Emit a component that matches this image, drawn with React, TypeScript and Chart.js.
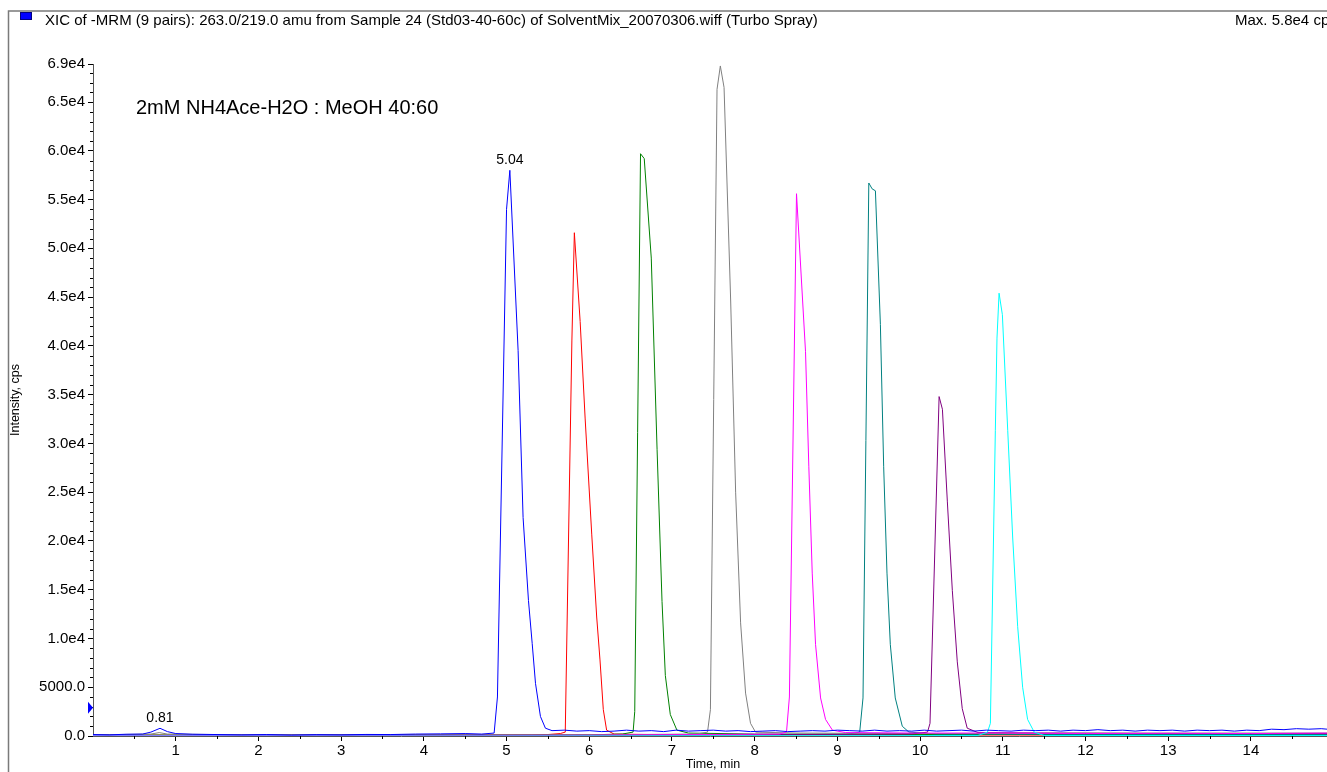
import React, { useEffect, useRef } from "react";
import { Chart, registerables } from "chart.js";

Chart.register(...registerables);

const FONT = "'Liberation Sans', Arial, Helvetica, sans-serif";

// ---- series (time in min, intensity in cps) ----
const blueTime = [
  0, 0.2, 0.4, 0.6, 0.7, 0.81, 0.9, 1.0, 1.2, 1.5,
  1.8, 2.1, 2.4, 2.7, 3.0, 3.3, 3.6, 3.9, 4.2, 4.5,
  4.7, 4.85, 4.89, 5.0, 5.04, 5.14, 5.2, 5.265, 5.31, 5.35,
  5.41, 5.47, 5.55,
  5.7, 5.85, 6.0, 6.15, 6.3, 6.45, 6.6, 6.75, 6.9, 7.05,
  7.2, 7.35, 7.5, 7.65, 7.8, 7.95, 8.1, 8.25, 8.4, 8.55,
  8.7, 8.85, 9.0, 9.15, 9.3, 9.45, 9.6, 9.75, 9.9, 10.05,
  10.2, 10.35, 10.5, 10.65, 10.8, 10.95, 11.1, 11.25, 11.4, 11.55,
  11.7, 11.85, 12.0, 12.15, 12.3, 12.45, 12.6, 12.75, 12.9, 13.05,
  13.2, 13.35, 13.5, 13.65, 13.8, 13.95, 14.1, 14.25, 14.4, 14.55,
  14.7, 14.85, 14.92,
];
const blueIntensity = [
  150, 120, 180, 200, 400, 790, 450, 250, 180, 150,
  120, 150, 100, 140, 120, 160, 150, 200, 220, 250,
  200, 300, 4000, 54000, 58000, 39500, 22400, 13900, 9500, 5400,
  2000, 800, 550,
  600, 500, 550, 450, 500, 600, 500, 550, 450, 600,
  500, 550, 600, 500, 550, 450, 500, 550, 450, 500,
  550, 500, 600, 550, 500, 600, 500, 550, 500, 600,
  500, 550, 600, 500, 600, 550, 500, 600, 550, 600,
  500, 600, 550, 650, 550, 600, 500, 600, 550, 600,
  500, 600, 550, 600, 500, 600, 550, 700, 650, 750,
  700, 750, 700,
];

const redTime = [0, 1.5, 3.0, 4.5, 5.3, 5.5, 5.65, 5.71, 5.79, 5.82, 5.89, 5.95, 6.03, 6.09, 6.13, 6.17, 6.21, 6.3, 7.0, 8.0, 9.0, 10.0, 11.0, 12.0, 13.0, 14.0, 14.92];
const redIntensity = [100, 80, 100, 100, 100, 150, 250, 400, 40500, 51600, 42500, 32600, 20700, 12200, 7800, 2700, 600, 200, 120, 100, 110, 90, 100, 90, 100, 90, 100];

const greenTime = [0, 2, 4, 6, 6.4, 6.53, 6.55, 6.62, 6.665, 6.75, 6.82, 6.88, 6.92, 6.98, 7.06, 7.2, 8, 9, 10, 11, 12, 13, 14, 14.92];
const greenIntensity = [100, 90, 110, 120, 200, 400, 2500, 59700, 59200, 49000, 29400, 13800, 6200, 2200, 600, 300, 200, 180, 150, 170, 150, 160, 150, 150];

const grayTime = [0, 0.7, 0.8, 0.9, 2, 4, 6, 7.3, 7.43, 7.465, 7.545, 7.585, 7.63, 7.71, 7.77, 7.83, 7.89, 7.95, 8.01, 8.5, 10, 12, 14, 14.92];
const grayIntensity = [100, 200, 350, 200, 100, 100, 120, 200, 400, 2700, 66300, 68700, 66500, 44600, 25000, 11600, 4400, 1300, 400, 300, 250, 300, 300, 300];

const magentaTime = [0, 3, 6, 8.3, 8.385, 8.42, 8.506, 8.615, 8.655, 8.696, 8.736, 8.797, 8.857, 8.94, 9.1, 10, 11, 12, 13, 14, 14.92];
const magentaIntensity = [50, 60, 80, 200, 400, 4000, 55600, 39400, 27600, 16700, 9400, 3900, 1700, 600, 350, 300, 300, 250, 280, 250, 300];

const tealTime = [0, 3, 6, 9.1, 9.27, 9.31, 9.38, 9.42, 9.46, 9.52, 9.56, 9.6, 9.64, 9.7, 9.785, 9.865, 10.2, 12, 14.92];
const tealIntensity = [50, 50, 80, 150, 400, 3900, 56700, 56100, 55900, 42200, 27600, 16700, 9400, 3900, 1000, 400, 200, 150, 150];

const purpleTime = [0, 3, 6, 9.9, 10.09, 10.12, 10.23, 10.27, 10.33, 10.39, 10.45, 10.51, 10.57, 10.7, 11.5, 13, 14.92];
const purpleIntensity = [50, 50, 60, 200, 400, 1300, 34800, 33500, 24000, 14900, 7600, 2800, 800, 350, 300, 250, 250];

const cyanTime = [0, 5, 10.7, 10.815, 10.85, 10.91, 10.93, 10.955, 10.995, 11.06, 11.12, 11.18, 11.24, 11.3, 11.38, 11.5, 14.92];
const cyanIntensity = [0, 0, 50, 400, 1300, 31300, 40800, 45400, 43200, 31300, 20300, 11200, 5000, 1700, 400, 50, 50];

const seriesNames = ["blue", "red", "green", "gray", "magenta", "teal", "purple", "cyan"];
const seriesColors = ["#0000ff", "#ff0000", "#008000", "#808080", "#ff00ff", "#008080", "#800080", "#00ffff"];
const seriesTimes = [blueTime, redTime, greenTime, grayTime, magentaTime, tealTime, purpleTime, cyanTime];
const seriesValues = [blueIntensity, redIntensity, greenIntensity, grayIntensity, magentaIntensity, tealIntensity, purpleIntensity, cyanIntensity];
const seriesDrawOrder = [0, 7, 6, 4, 2, 5, 3, 1];

// ---- axes ----
const xMin = 0;
const xMax = 14.92;
const xTickValues = [1, 2, 3, 4, 5, 6, 7, 8, 9, 10, 11, 12, 13, 14];
const xTickLabels = ["1", "2", "3", "4", "5", "6", "7", "8", "9", "10", "11", "12", "13", "14"];
const xMinorTicks = [0.5, 1.5, 2.5, 3.5, 4.5, 5.5, 6.5, 7.5, 8.5, 9.5, 10.5, 11.5, 12.5, 13.5, 14.5];

const yMin = 0;
const yMax = 68900;
const yTickValues = [0, 5000, 10000, 15000, 20000, 25000, 30000, 35000, 40000, 45000, 50000, 55000, 60000, 65000, 68900];
const yTickLabels = ["0.0", "5000.0", "1.0e4", "1.5e4", "2.0e4", "2.5e4", "3.0e4", "3.5e4", "4.0e4", "4.5e4", "5.0e4", "5.5e4", "6.0e4", "6.5e4", "6.9e4"];
const yMinorStep = 1000;

// ---- annotations ----
const titleText = "XIC of -MRM (9 pairs): 263.0/219.0 amu from Sample 24 (Std03-40-60c) of SolventMix_20070306.wiff (Turbo Spray)";
const maxText = "Max. 5.8e4 cps";
const conditionText = "2mM NH4Ace-H2O : MeOH 40:60";
const peakLabelTimes = [5.04, 0.81];
const peakLabelValues = [58000, 790];
const peakLabelTexts = ["5.04", "0.81"];
const markerValue = 2900;

const extrasPlugin = {
  id: "extras",
  afterDraw(chart: any) {
    const ctx = chart.ctx as CanvasRenderingContext2D;
    const xs = chart.scales.x;
    const ys = chart.scales.y;
    ctx.save();

    // frame
    ctx.strokeStyle = "#7a7a7a";
    ctx.lineWidth = 1.5;
    ctx.beginPath();
    ctx.moveTo(8.5, 772);
    ctx.lineTo(8.5, 11);
    ctx.lineTo(1327, 11);
    ctx.stroke();

    // minor ticks
    ctx.strokeStyle = "#000";
    ctx.lineWidth = 1;
    ctx.beginPath();
    for (let v = yMinorStep; v < yMax; v += yMinorStep) {
      if (v % 5000 === 0) continue;
      const y = Math.round(ys.getPixelForValue(v)) + 0.5;
      ctx.moveTo(xs.left - 3, y);
      ctx.lineTo(xs.left, y);
    }
    for (const t of xMinorTicks) {
      const x = Math.round(xs.getPixelForValue(t)) + 0.5;
      ctx.moveTo(x, ys.bottom);
      ctx.lineTo(x, ys.bottom + 3);
    }
    ctx.stroke();

    // legend square + title
    ctx.fillStyle = "#0000ff";
    ctx.fillRect(20, 12, 12, 8);
    ctx.strokeStyle = "#000080";
    ctx.strokeRect(20.5, 12.5, 11, 7);
    ctx.fillStyle = "#000";
    ctx.font = `15px ${FONT}`;
    ctx.textBaseline = "middle";
    ctx.textAlign = "left";
    ctx.fillText(titleText, 45, 21);
    ctx.fillText(maxText, 1235, 21);

    // condition text
    ctx.font = `20px ${FONT}`;
    ctx.fillText(conditionText, 136, 108);

    // peak labels
    ctx.font = `14px ${FONT}`;
    ctx.textAlign = "center";
    ctx.textBaseline = "alphabetic";
    for (let i = 0; i < peakLabelTexts.length; i++) {
      const px = xs.getPixelForValue(peakLabelTimes[i]);
      const py = ys.getPixelForValue(peakLabelValues[i]);
      ctx.fillText(peakLabelTexts[i], px, py - 6);
    }

    // axis titles
    ctx.font = `12.5px ${FONT}`;
    ctx.textBaseline = "middle";
    ctx.fillText("Time, min", (xs.left + xs.right) / 2 + 3, 765);
    ctx.save();
    ctx.translate(16, (ys.top + ys.bottom) / 2);
    ctx.rotate(-Math.PI / 2);
    ctx.fillText("Intensity, cps", 0, 0);
    ctx.restore();

    // threshold marker
    const my = ys.getPixelForValue(markerValue);
    ctx.fillStyle = "#0000ff";
    ctx.beginPath();
    ctx.moveTo(xs.left - 5, my - 6);
    ctx.lineTo(xs.left, my);
    ctx.lineTo(xs.left - 5, my + 6);
    ctx.closePath();
    ctx.fill();

    ctx.restore();
  },
};

export default function App() {
  const canvasRef = useRef<HTMLCanvasElement | null>(null);

  useEffect(() => {
    const canvas = canvasRef.current;
    if (!canvas) return;
    const datasets = seriesNames.map((name, i) => ({
      label: name,
      data: seriesTimes[i].map((t, j) => ({ x: t, y: seriesValues[i][j] })),
      borderColor: seriesColors[i],
      backgroundColor: seriesColors[i],
      borderWidth: 1,
      showLine: true,
      pointRadius: 0,
      tension: 0,
      fill: false,
      order: seriesDrawOrder[i],
    }));

    const chart = new Chart(canvas, {
      type: "scatter",
      data: { datasets },
      options: {
        animation: false,
        responsive: false,
        maintainAspectRatio: false,
        layout: { padding: { left: 0, top: 64, right: 0, bottom: 0 } },
        plugins: { legend: { display: false }, tooltip: { enabled: false }, title: { display: false } },
        scales: {
          x: {
            type: "linear",
            min: xMin,
            max: xMax,
            afterBuildTicks: (scale: any) => {
              scale.ticks = xTickValues.map((v) => ({ value: v }));
            },
            afterFit: (scale: any) => {
              scale.height = 36;
            },
            ticks: {
              autoSkip: false,
              maxRotation: 0,
              padding: 1,
              color: "#000",
              font: { family: FONT, size: 15 },
              callback: (_v: any, i: number) => xTickLabels[i],
            },
            grid: { drawOnChartArea: false, drawTicks: true, tickLength: 5, color: "#000" },
            border: { display: true, color: "#555", width: 1 },
          },
          y: {
            type: "linear",
            min: yMin,
            max: yMax,
            afterBuildTicks: (scale: any) => {
              scale.ticks = yTickValues.map((v) => ({ value: v }));
            },
            afterFit: (scale: any) => {
              scale.width = 93;
            },
            ticks: {
              autoSkip: false,
              padding: 3,
              color: "#000",
              font: { family: FONT, size: 15 },
              callback: (_v: any, i: number) => yTickLabels[i],
            },
            grid: { drawOnChartArea: false, drawTicks: true, tickLength: 5, color: "#000" },
            border: { display: true, color: "#555", width: 1 },
          },
        },
      },
      plugins: [extrasPlugin],
    });
    return () => chart.destroy();
  }, []);

  return (
    <div style={{ position: "absolute", left: 0, top: 0, width: 1327, height: 772, background: "#fff" }}>
      <canvas ref={canvasRef} width={1327} height={772} style={{ display: "block", width: 1327, height: 772 }} />
    </div>
  );
}
